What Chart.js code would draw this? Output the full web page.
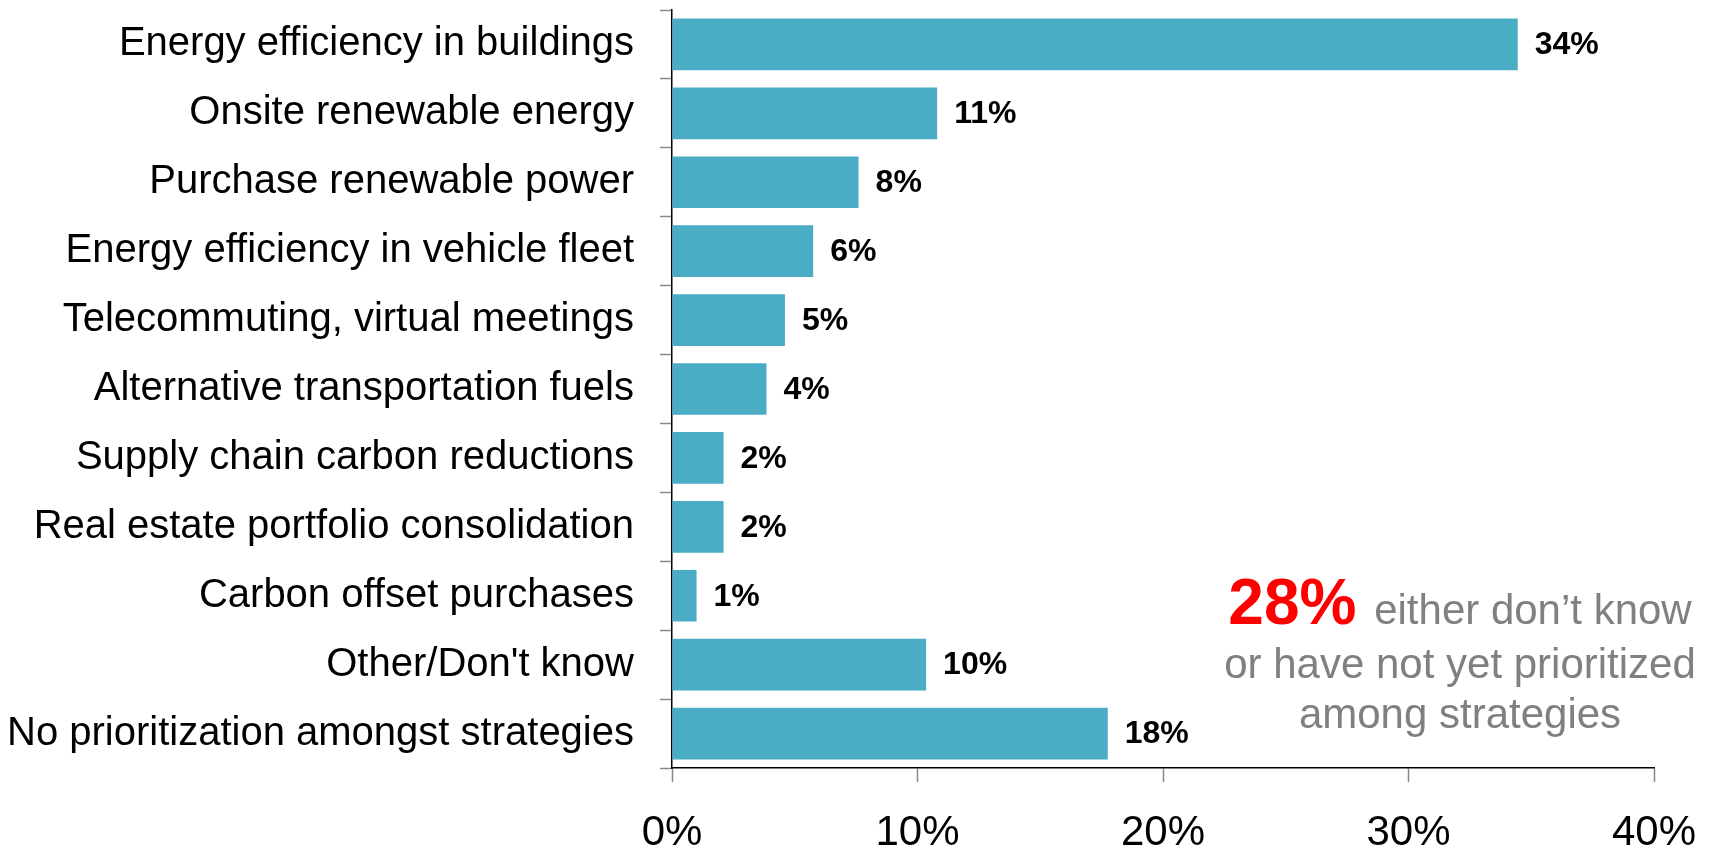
<!DOCTYPE html>
<html>
<head>
<meta charset="utf-8">
<script src="https://cdn.jsdelivr.net/npm/chart.js@4.4.0/dist/chart.umd.min.js"></script>
<style>
  html, body { margin: 0; padding: 0; background: #fff; overflow: hidden; }
  #wrap { position: relative; width: 1715px; height: 862px; }
</style>
</head>
<body>
<div id="wrap"><canvas id="chart"></canvas></div>
<script>
// categories and values (percent of respondents)
const categories = [
  "Energy efficiency in buildings",
  "Onsite renewable energy",
  "Purchase renewable power",
  "Energy efficiency in vehicle fleet",
  "Telecommuting, virtual meetings",
  "Alternative transportation fuels",
  "Supply chain carbon reductions",
  "Real estate portfolio consolidation",
  "Carbon offset purchases",
  "Other/Don't know",
  "No prioritization amongst strategies"
];
const shares = [34.45, 10.8, 7.6, 5.75, 4.6, 3.85, 2.1, 2.1, 1.0, 10.35, 17.75];
const xTicks = [0, 10, 20, 30, 40];
const noteBig = "28%";
const noteLines = ["either don\u2019t know", "or have not yet prioritized", "among strategies"];

const FONT = "'Liberation Sans', Arial, sans-serif";

// value labels at the end of each bar
const barLabels = {
  id: "barLabels",
  afterDatasetsDraw(chart) {
    const ctx = chart.ctx;
    const meta = chart.getDatasetMeta(0);
    ctx.save();
    ctx.font = "bold 32px " + FONT;
    ctx.fillStyle = "#000";
    ctx.textAlign = "left";
    ctx.textBaseline = "middle";
    meta.data.forEach((bar, i) => {
      ctx.fillText(Math.round(shares[i]) + "%", bar.x + 17, bar.y + 1);
    });
    ctx.restore();
  }
};

// the "28% either don't know..." note
const note = {
  id: "note",
  afterDraw(chart) {
    const ctx = chart.ctx;
    const cx = 1460;
    ctx.save();
    ctx.textBaseline = "alphabetic";
    ctx.font = "bold 64px " + FONT;
    const w1 = ctx.measureText(noteBig + " ").width;
    ctx.font = "42px " + FONT;
    const w2 = ctx.measureText(noteLines[0]).width;
    let x = cx - (w1 + w2) / 2;
    ctx.textAlign = "left";
    ctx.font = "bold 64px " + FONT;
    ctx.fillStyle = "#ff0000";
    ctx.fillText(noteBig, x, 624);
    ctx.font = "42px " + FONT;
    ctx.fillStyle = "#808080";
    ctx.fillText(noteLines[0], x + w1, 624);
    ctx.textAlign = "center";
    ctx.fillText(noteLines[1], cx, 678);
    ctx.fillText(noteLines[2], cx, 728);
    ctx.restore();
  }
};

new Chart(document.getElementById("chart"), {
  type: "bar",
  data: {
    labels: categories,
    datasets: [{
      data: shares,
      backgroundColor: "#4BACC6",
      borderWidth: 0,
      barPercentage: 0.75,
      categoryPercentage: 1
    }]
  },
  options: {
    indexAxis: "y",
    responsive: true,
    maintainAspectRatio: false,
    animation: false,
    layout: { padding: { top: 10, right: 61, left: 10, bottom: 0 } },
    plugins: {
      legend: { display: false },
      tooltip: { enabled: false }
    },
    scales: {
      x: {
        min: 0,
        max: 40,
        afterBuildTicks: (s) => { s.ticks = xTicks.map(v => ({ value: v })); },
        afterFit: (s) => {
          s.height = 94;
          s.paddingLeft = 0;
          s.paddingRight = 0;
        },
        border: { display: true, color: "#000", width: 1.5 },
        grid: {
          drawOnChartArea: false,
          drawTicks: true,
          tickLength: 14,
          tickColor: "#888",
          tickWidth: 1.5
        },
        ticks: {
          callback: (v) => v + "%",
          font: { family: FONT, size: 42 },
          color: "#000",
          padding: 26,
          maxRotation: 0
        }
      },
      y: {
        afterFit: (s) => {
          s.width = 662;
          s.paddingTop = 0;
          s.paddingBottom = 0;
        },
        border: { display: true, color: "#000", width: 1.5 },
        grid: {
          offset: true,
          drawOnChartArea: false,
          drawTicks: true,
          tickLength: 12,
          tickColor: "#888",
          tickWidth: 1.5
        },
        ticks: {
          font: { family: FONT, size: 40 },
          color: "#000",
          padding: 26,
          autoSkip: false
        }
      }
    }
  },
  plugins: [barLabels, note]
});
</script>
</body>
</html>
